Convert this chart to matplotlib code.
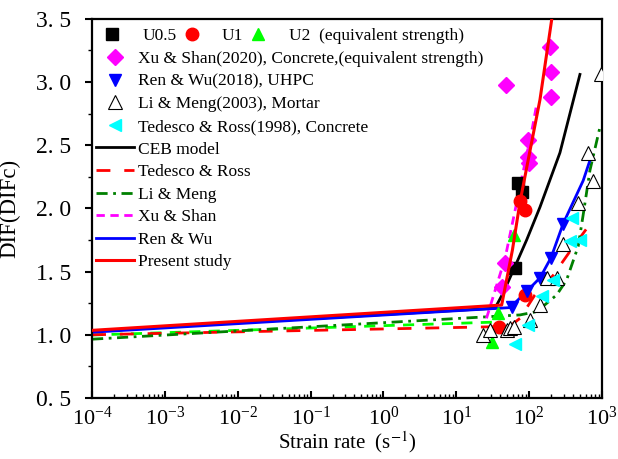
import matplotlib
matplotlib.use("Agg")
import matplotlib.pyplot as plt
import numpy as np
from matplotlib.ticker import LogLocator, MultipleLocator, NullFormatter, FuncFormatter

plt.rcParams["font.family"] = ["Liberation Serif", "DejaVu Serif"]
plt.rcParams["mathtext.fontset"] = "stix"

# experimental points (strain rate, DIF)
u05_x = [64, 71, 79]
u05_y = [1.53, 2.20, 2.13]
u1_x = [39, 75, 88, 88]
u1_y = [1.06, 2.06, 1.99, 1.315]
u2_x = [31, 38, 62]
u2_y = [0.945, 1.17, 1.79]
xu_x = [42, 47, 48, 97, 97, 100, 193, 198, 200]
xu_y = [1.38, 1.57, 2.98, 2.54, 2.41, 2.36, 3.28, 2.88, 3.08]
ren_x = [57.5, 95, 141, 200, 294]
ren_y = [1.22, 1.35, 1.45, 1.61, 1.88]
li_x = [23.5, 29, 49, 55, 62, 103, 141, 174, 239, 294, 472, 649, 760, 960]
li_y = [1.00, 1.04, 1.04, 1.05, 1.065, 1.12, 1.235, 1.45, 1.45, 1.72, 2.04, 2.44, 2.22, 3.06]
ted_x = [64, 98, 149, 214, 364, 390, 500]
ted_y = [0.93, 1.08, 1.31, 1.43, 1.74, 1.92, 1.75]

# model curves
ceb_x = [1e-4, 34, 44, 64, 92.5, 141, 265, 499]
ceb_y = [1.03, 1.21, 1.33, 1.54, 1.75, 2.01, 2.44, 3.06]
tr_x = [1e-4, 45, 55, 75, 120, 214, 364, 617]
tr_y = [1.00, 1.065, 1.07, 1.13, 1.315, 1.47, 1.66, 1.84]
lm_x = [1e-4, 75, 127, 239, 327, 472, 553, 684, 937]
lm_y = [0.965, 1.157, 1.183, 1.315, 1.433, 1.70, 1.95, 2.30, 2.64]
xs_x = [26, 47, 112, 125]
xs_y = [1.13, 1.61, 2.65, 2.80]
rw_x = [1e-4, 55, 95, 141, 200, 294, 553, 684]
rw_y = [1.02, 1.215, 1.35, 1.45, 1.61, 1.88, 2.22, 2.38]
ps_x = [1e-4, 42, 59, 75, 100, 141, 205]
ps_y = [1.035, 1.235, 1.67, 2.05, 2.42, 2.86, 3.5]
u2fit_x = [1e-4, 33]
u2fit_y = [0.998, 1.10]

fig = plt.figure(figsize=(6.18, 4.59), dpi=100)
ax = fig.add_axes([0.149, 0.133, 0.825, 0.826])

# lines
ax.plot(u2fit_x, u2fit_y, color="#00ff00", lw=2, ls=(0, (4, 3)), zorder=2)
l_ceb, = ax.plot(ceb_x, ceb_y, color="black", lw=2, label="CEB model", zorder=2)
l_tr, = ax.plot(tr_x, tr_y, color="#ff0000", lw=2, ls=(0, (5, 5)), label="Tedesco & Ross", zorder=2)
l_lm, = ax.plot(lm_x, lm_y, color="#008000", lw=2, ls=(0, (4, 2, 1, 2)), label="Li & Meng", zorder=2)
l_xs, = ax.plot(xs_x, xs_y, color="#ff00ff", lw=2, ls=(0, (3, 2)), label="Xu & Shan", zorder=2)
l_rw, = ax.plot(rw_x, rw_y, color="#0000ff", lw=2, label="Ren & Wu", zorder=2)

# markers
ms = 8
p_u05, = ax.plot(u05_x, u05_y, "s", color="black", ms=ms, ls="none", label="U0.5", zorder=3)
p_u1, = ax.plot(u1_x, u1_y, "o", color="#ff0000", ms=ms + 1, ls="none", label="U1", zorder=3)
p_u2, = ax.plot(u2_x, u2_y, "^", color="#00ff00", ms=ms + 1, ls="none",
                label="U2  (equivalent strength)", zorder=3)
p_xu, = ax.plot(xu_x, xu_y, "D", color="#ff00ff", ms=ms, ls="none",
                label="Xu & Shan(2020), Concrete,(equivalent strength)", zorder=3)
p_ren, = ax.plot(ren_x, ren_y, "v", color="#0000ff", ms=ms + 1, ls="none",
                 label="Ren & Wu(2018), UHPC", zorder=3)
p_li, = ax.plot(li_x, li_y, "^", mfc="white", mec="black", mew=0.8, ms=ms + 2, ls="none",
                label="Li & Meng(2003), Mortar", zorder=3)
p_ted, = ax.plot(ted_x, ted_y, "<", color="#00ffff", ms=ms + 1, ls="none",
                 label="Tedesco & Ross(1998), Concrete", zorder=3)
l_ps, = ax.plot(ps_x, ps_y, color="#ff0000", lw=2.2, label="Present study", zorder=4)

ax.set_xscale("log")
ax.set_xlim(1e-4, 1e3)
ax.set_ylim(0.5, 3.5)
ax.xaxis.set_major_locator(LogLocator(base=10, numticks=10))
ax.xaxis.set_minor_locator(LogLocator(base=10, subs=np.arange(2, 10), numticks=10))
ax.xaxis.set_minor_formatter(NullFormatter())
ax.yaxis.set_major_locator(MultipleLocator(0.5))
ax.yaxis.set_minor_locator(MultipleLocator(0.25))
ax.yaxis.set_major_formatter(FuncFormatter(lambda v, p: ("%.1f" % v).replace(".", ". ")))

ax.tick_params(axis="x", which="major", direction="in", length=5, width=1.5, labelsize=16, pad=6)
ax.tick_params(axis="x", which="minor", direction="in", length=3, width=1.0)
ax.tick_params(axis="y", which="major", direction="out", length=5, width=1.5, labelsize=17, pad=10)
ax.tick_params(axis="y", which="minor", direction="out", length=3, width=1.0)
for s in ax.spines.values():
    s.set_linewidth(1.6)

ax.set_xlabel("Strain rate  (s$^{-1}$)", fontsize=15, labelpad=0)
ax.set_ylabel("DIF(DIFc)", fontsize=16.5)
ax.yaxis.set_label_coords(-0.14, 0.5)

leg1 = ax.legend(handles=[p_u05, p_u1, p_u2], loc="upper left", bbox_to_anchor=(0.016, 0.985),
                 ncol=3, frameon=False, fontsize=12.5, handlelength=1.0, handletextpad=1.25,
                 columnspacing=0.35, borderpad=0.2, borderaxespad=0)
ax.add_artist(leg1)
ax.legend(handles=[p_xu, p_ren, p_li, p_ted, l_ceb, l_tr, l_lm, l_xs, l_rw, l_ps],
          loc="upper left", bbox_to_anchor=(0.0, 0.924), frameon=False, fontsize=12.5,
          handlelength=2.2, handletextpad=0.25, labelspacing=0.37, borderpad=0.2,
          borderaxespad=0)

fig.savefig("out.png", dpi=100)
